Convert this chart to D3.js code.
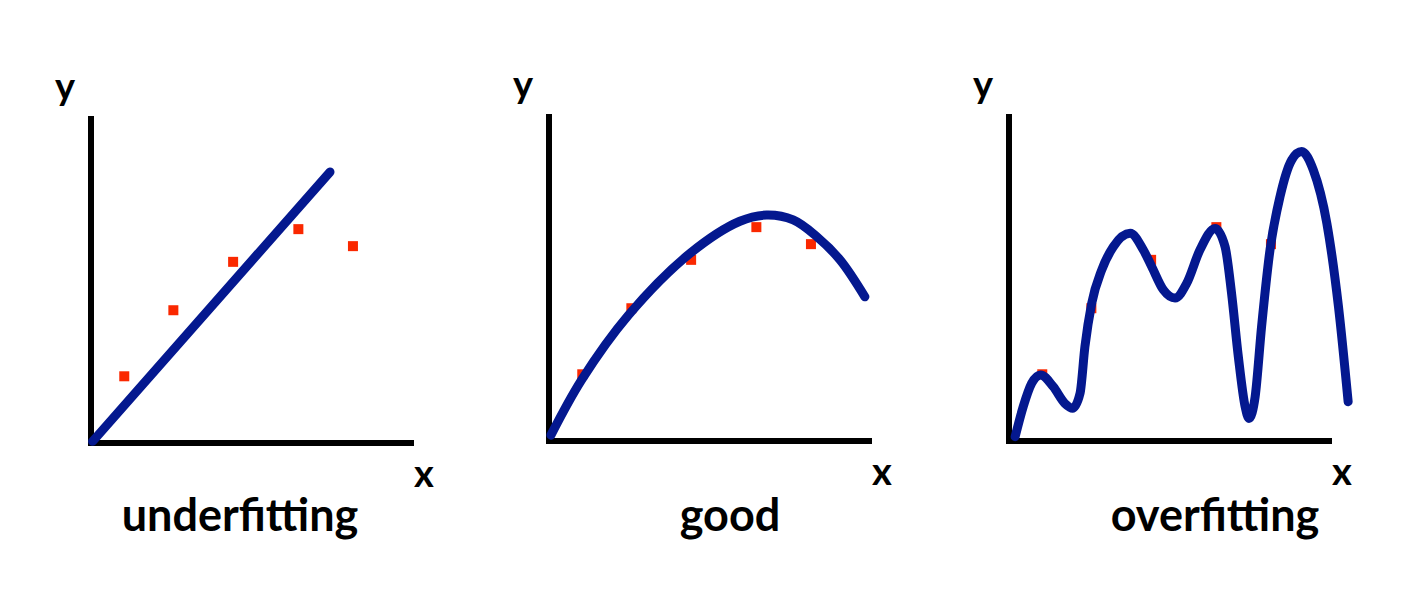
<!DOCTYPE html>
<html>
<head>
<meta charset="utf-8">
<script src="https://cdn.jsdelivr.net/npm/d3@7"></script>
<style>
  html, body { margin: 0; padding: 0; background: #ffffff; }
  svg { display: block; }
  text { font-family: Lato, "Open Sans", sans-serif; font-weight: 700; fill: #000; }
</style>
</head>
<body>
<script>
// ---- data ----
const titles = ["underfitting", "good", "overfitting"];
const axisLabelX = "x";
const axisLabelY = "y";

// sample points (same in all three panels)
const pointX = [1.03, 2.55, 4.40, 6.42, 8.11];
const pointY = [2.04, 4.06, 5.54, 6.54, 6.02];

// fitted curves
const underfitX = [0.05, 7.40];
const underfitY = [0.05, 8.29];

const goodX = [0.06, 1.01, 2.46, 4.37, 5.91, 6.74, 7.56, 8.29, 9.01, 9.78];
const goodY = [0.18, 1.87, 3.85, 5.74, 6.72, 6.91, 6.76, 6.25, 5.54, 4.41];

const overfitX = [0.19, 0.44, 0.70, 0.98, 1.37, 1.73, 1.97, 2.20, 2.35, 2.56, 2.87, 3.23, 3.75, 4.16, 4.42, 4.78, 5.14, 5.50, 5.91, 6.38, 6.69, 6.89, 7.10, 7.31, 7.43, 7.62, 7.82, 8.08, 8.39, 8.75, 9.06, 9.42, 9.84, 10.20, 10.50];
const overfitY = [0.13, 1.05, 1.76, 2.02, 1.66, 1.15, 1.00, 1.46, 2.88, 4.21, 5.23, 5.94, 6.35, 5.84, 5.33, 4.62, 4.37, 4.82, 5.84, 6.50, 5.94, 4.52, 2.58, 1.05, 0.69, 1.35, 3.50, 5.84, 7.47, 8.59, 8.85, 8.29, 6.66, 4.11, 1.20];

// ---- layout (not data) ----
const W = 1404, H = 600;
const panelOrigins = [[91, 443], [549, 441], [1009, 441]];
const titleCenters = [240, 730, 1215];
const plotW = 323, plotH = 327;
const curveColor = "#04188f";
const pointColor = "#fa2800";

const curves = [
  { xs: underfitX, ys: underfitY, curve: d3.curveLinear },
  { xs: goodX, ys: goodY, curve: d3.curveCatmullRom.alpha(0.5) },
  { xs: overfitX, ys: overfitY, curve: d3.curveMonotoneX }
];

const svg = d3.select("body").append("svg")
  .attr("width", W).attr("height", H);

panelOrigins.forEach(([ox, oy], i) => {
  const x = d3.scaleLinear().domain([0, 10]).range([ox, ox + plotW]);
  const y = d3.scaleLinear().domain([0, 10]).range([oy, oy - plotH]);
  const g = svg.append("g");

  // axes
  g.append("line")
    .attr("x1", x(0)).attr("x2", x(0))
    .attr("y1", y(10)).attr("y2", y(0) + 3)
    .attr("stroke", "#000").attr("stroke-width", 6);
  g.append("line")
    .attr("x1", x(0) - 3).attr("x2", x(10))
    .attr("y1", y(0)).attr("y2", y(0))
    .attr("stroke", "#000").attr("stroke-width", 6);

  // axis labels
  g.append("text").attr("x", x(0) - 36).attr("y", oy - 343)
    .attr("font-size", 38).text(axisLabelY);
  g.append("text").attr("x", x(10)).attr("y", oy + 44)
    .attr("font-size", 38).text(axisLabelX);

  // points
  g.selectAll("rect.pt").data(d3.range(pointX.length)).join("rect")
    .attr("class", "pt")
    .attr("x", k => x(pointX[k]) - 5)
    .attr("y", k => y(pointY[k]) - 5)
    .attr("width", 10).attr("height", 10)
    .attr("fill", pointColor);

  // curve
  const c = curves[i];
  const line = d3.line()
    .x(k => x(c.xs[k]))
    .y(k => y(c.ys[k]))
    .curve(c.curve);
  g.append("path")
    .attr("d", line(d3.range(c.xs.length)))
    .attr("fill", "none")
    .attr("stroke", curveColor)
    .attr("stroke-width", 9)
    .attr("stroke-linecap", "round")
    .attr("stroke-linejoin", "round");

  // title
  g.append("text").attr("x", titleCenters[i]).attr("y", 531)
    .attr("text-anchor", "middle")
    .attr("font-size", 45).text(titles[i]);
});
</script>
</body>
</html>
